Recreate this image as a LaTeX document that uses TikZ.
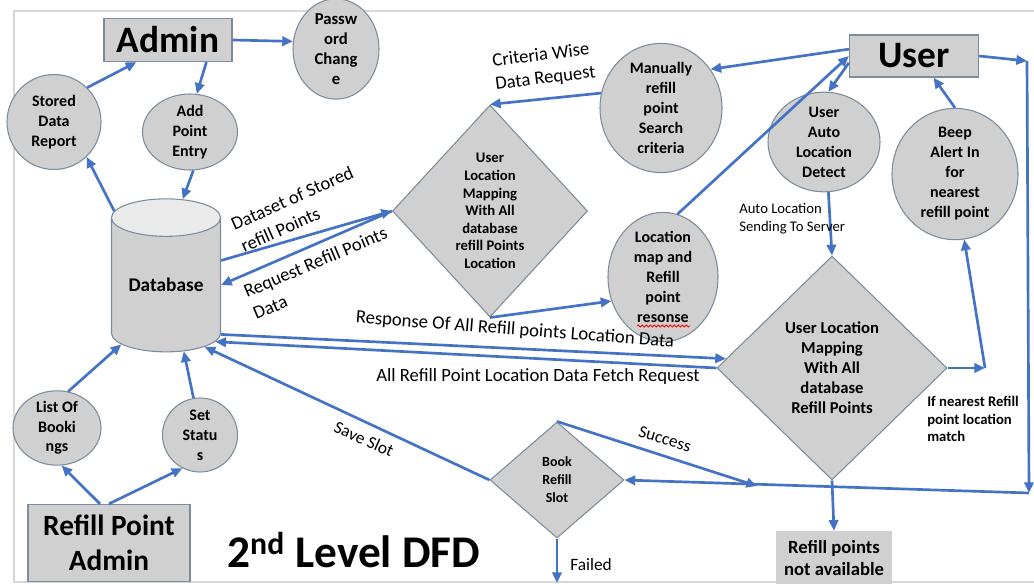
\documentclass[tikz,border=0pt]{standalone}
\usepackage{fontspec}
\setmainfont{Carlito}
\usetikzlibrary{shapes.geometric,arrows.meta,decorations.pathmorphing}
\definecolor{flowc}{RGB}{68,114,196}
\definecolor{boxc}{RGB}{208,208,208}
\definecolor{bordc}{RGB}{125,140,155}
\definecolor{framec}{RGB}{215,215,215}
\newlength{\pxu}
\setlength{\pxu}{0.75pt}
\begin{document}
\begin{tikzpicture}[
          x = 0.75pt, y = -0.75pt,
          proc/.style = {ellipse, draw=bordc, fill=boxc, line width=0.8pt, inner sep=0pt, align=center,
                         font=\bfseries\fontsize{12}{15}\selectfont},
          ent/.style = {rectangle, draw=bordc, fill=boxc, line width=1pt, inner sep=0pt, align=center},
          dec/.style = {diamond, draw=bordc, fill=boxc, line width=0.8pt, inner sep=0pt, align=center},
          flow/.style = {draw=flowc, line width=2pt, -{Triangle[length=8pt,width=7pt]}},
          lbl/.style = {inner sep=0pt, align=left, font=\fontsize{14}{17.5}\selectfont},
        ]
        \useasboundingbox (0,0) rectangle (1034,584);
        \fill[white] (0,0) rectangle (1034,584);
        \draw[framec, line width=1pt] (14,11) rectangle (1040,582);

        \node[ent, minimum width=128\pxu, minimum height=43\pxu, font=\bfseries\fontsize{28}{30}\selectfont] (admin) at (168,40) {Admin};
        \node[proc, minimum width=86\pxu, minimum height=86\pxu, font=\bfseries\fontsize{12.5}{15}\selectfont] (pwd) at (336,49) {Passw\\ord\\Chang\\e};
        \node[proc, minimum width=94\pxu, minimum height=95\pxu] (stored) at (54,122) {Stored\\Data\\Report};
        \node[proc, minimum width=95\pxu, minimum height=70\pxu] (addpt) at (190,132) {Add\\Point\\Entry};
        \node[cylinder, shape border rotate=90, aspect=0.5, draw=bordc, line width=0.8pt, cylinder uses custom fill,
              cylinder body fill=boxc, cylinder end fill=boxc!45, minimum width=109\pxu, minimum height=153\pxu,
              inner sep=0pt, font=\bfseries\fontsize{14.5}{16}\selectfont] (db) at (166,285) {Database};
        \node[dec, minimum width=195\pxu, minimum height=212\pxu, font=\bfseries\fontsize{11}{13.2}\selectfont] (d1) at (490,211)
          {User\\Location\\Mapping\\With All\\database\\refill Points\\Location};
        \node[proc, minimum width=122\pxu, minimum height=108\pxu] (manual) at (661,108) {Manually\\refill\\point\\Search\\criteria};
        \node[ent, minimum width=129\pxu, minimum height=42\pxu, font=\bfseries\fontsize{28}{30}\selectfont] (user) at (914,56) {User};
        \node[proc, minimum width=112\pxu, minimum height=90\pxu] (auto) at (824,142) {User\\Auto\\Location\\Detect};
        \node[proc, minimum width=126\pxu, minimum height=112\pxu] (beep) at (955,174) {Beep\\Alert In\\for\\nearest\\refill point};
        \node[proc, minimum width=110\pxu, minimum height=105\pxu] (loc) at (663,277) {Location\\map and\\Refill\\point\\resonse};
        \node[dec, minimum width=230\pxu, minimum height=224\pxu, font=\bfseries\fontsize{12.5}{15}\selectfont] (d2) at (832,368)
          {User Location\\Mapping\\With All\\database\\Refill Points};
        \node[dec, minimum width=134\pxu, minimum height=116\pxu, font=\bfseries\fontsize{10.5}{13.5}\selectfont] (bk) at (557,480) {Book\\Refill\\Slot};
        \node[fill=boxc, minimum width=116\pxu, minimum height=54\pxu, inner sep=0pt, align=center,
              font=\bfseries\fontsize{14}{17}\selectfont] (na) at (834,558) {Refill points\\not available};
        \node[proc, minimum width=88\pxu, minimum height=66\pxu, font=\bfseries\fontsize{12}{14.5}\selectfont] (list) at (57,428) {List Of\\Booki\\ngs};
        \node[proc, minimum width=75\pxu, minimum height=74\pxu] (set) at (200,435) {Set\\Statu\\s};
        \node[ent, minimum width=162\pxu, minimum height=77\pxu, font=\bfseries\fontsize{22}{26}\selectfont] (rpa) at (109,543) {Refill Point\\Admin};
        \node[anchor=base west, inner sep=0pt, font=\bfseries\fontsize{34}{40}\selectfont] (title) at (227,567) {2\textsuperscript{nd} Level DFD};

        \draw[red, line width=0.6pt, decorate, decoration={snake, amplitude=0.8pt, segment length=3pt}] (637,326) -- (690,326);

        \draw[flow] (admin.east) -- (pwd.170);
        \draw[flow] (stored.46) -- (admin.215);
        \draw[flow] (admin.330) -- (addpt.80);
        \draw[flow] (db.125) -- (stored.313);
        \draw[flow] (addpt.275) -- (db.79);
        \draw[flow] (db.24) -- (d1.west);
        \draw[flow] (d1.west) -- (db.east);
        \draw[flow] (d1.south) -- (loc.205);
        \draw[flow] (loc.77) -- (user.west);
        \draw[flow] (user.174) -- (manual.38);
        \draw[flow] (manual.166) -- (d1.north);
        \draw[flow] (user.186) -- (auto.85);
        \draw[flow] (auto.275) -- (d2.north);
        \coordinate (mbend) at (985,368);
        \draw[flow] (d2.east) -- (mbend);
        \draw[flow] (mbend) -- (beep.278);
        \draw[flow] (beep.north) -- (user.312);
        \coordinate (ur) at (1027,61);
        \coordinate (br) at (1029,493);
        \draw[flow] (user.east) -- (ur);
        \draw[flow] (ur) -- (br);
        \draw[flow] (br) -- (bk.east);
        \coordinate (sj) at (757,486);
        \draw[flow] (bk.north) -- (sj);
        \draw[flow] (d2.south) -- (na.north);
        \coordinate (fl) at (557,583);
        \draw[flow] (bk.south) -- (fl);
        \draw[flow] (bk.west) -- (db.302);
        \draw[flow] (db.318) -- (d2.175);
        \draw[flow] (d2.west) -- (db.311);
        \draw[flow] (list.73) -- (db.233);
        \draw[flow] (set.100) -- (db.285);
        \draw[flow] (rpa.103) -- (list.277);
        \draw[flow] (rpa.north) -- (set.242);

        \node[lbl, rotate=7] (lcrit) at (544,67) {Criteria Wise\\Data Request};
        \node[lbl, rotate=24, font=\fontsize{14}{18}\selectfont] (ldset) at (297,209) {Dataset of Stored\\refill Points};
        \node[lbl, rotate=23, font=\fontsize{14}{18}\selectfont] (lreq) at (320,273) {Request Refill Points\\Data};
        \node[lbl, rotate=-4.4] (lresp) at (515,330) {Response Of All Refill points Location Data};
        \node[lbl] (lfetch) at (538,377) {All Refill Point Location Data Fetch Request};
        \node[lbl, rotate=-24, font=\fontsize{13}{15}\selectfont] (lsave) at (364,439) {Save Slot};
        \node[lbl, rotate=-17, font=\fontsize{13}{15}\selectfont] (lsucc) at (665,439) {Success};
        \node[lbl, font=\fontsize{13}{15}\selectfont] (lfail) at (591,565) {Failed};
        \node[lbl, anchor=west, font=\fontsize{11}{13.5}\selectfont] (lauto) at (739,219) {Auto Location\\Sending To Server};
        \node[lbl, anchor=west, font=\bfseries\fontsize{11}{13}\selectfont] (lmatch) at (927,419) {If nearest Refill\\point location\\match};
      \end{tikzpicture}
\end{document}
